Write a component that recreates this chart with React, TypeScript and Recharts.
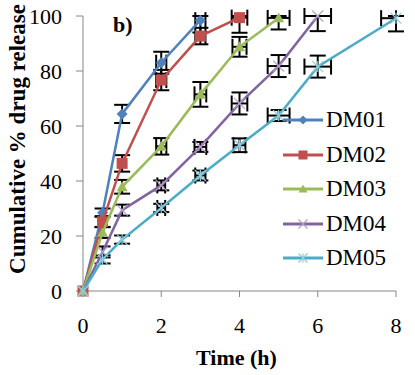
import React from "react";
import {
  ScatterChart,
  Scatter,
  XAxis,
  YAxis,
  ErrorBar,
  Legend,
  Label,
} from "recharts";

const FONT = '"Liberation Serif"';

const hours = [0, 0.5, 1, 2, 3, 4, 5, 6, 8];
const xTicks = [0, 2, 4, 6, 8];
const yTicks = [0, 20, 40, 60, 80, 100];
const names = ["DM01", "DM02", "DM03", "DM04", "DM05"];

// cumulative % drug released at each time point
const dm01 = [0, 28.5, 64.4, 83, 98.5];
const dm02 = [0, 25.2, 46.4, 76.7, 92.7, 99.4];
const dm03 = [0, 21.3, 37.9, 52.6, 71.5, 88.8, 99.3];
const dm04 = [0, 14.2, 29.4, 38.4, 52.4, 68.2, 81.8, 100];
const dm05 = [0, 11.5, 18.7, 30.2, 42, 53, 63.8, 81.6, 99.2];

// error on % released; [below, above] where the bar is cut off at the top
type Err = number | [number, number];
const dm01Sd: Err[] = [0, 1.5, 3.3, 4, [4.5, 1.5]];
const dm02Sd: Err[] = [0, 2, 3, 3.7, 3, [5.5, 0.6]];
const dm03Sd: Err[] = [0, 2, 2.5, 3, 4.5, 3.6, [4.2, 0.7]];
const dm04Sd: Err[] = [0, 2, 2, 1.8, 1.8, 4, 4, [5.5, 0]];
const dm05Sd: Err[] = [0, 1.5, 1.5, 1.5, 1.8, 2.5, 2, 4, [4.8, 0.8]];

// error on time (h)
const dm01Th: Err[] = [0, 0, 0, 0.13, 0.13];
const dm02Th: Err[] = [0, 0, 0, 0.13, 0.13, 0.2];
const dm03Th: Err[] = [0, 0, 0, 0.13, 0.15, 0.18, 0.28];
const dm04Th: Err[] = [0, 0, 0, 0.1, 0.15, 0.2, 0.28, 0.34];
const dm05Th: Err[] = [0, 0, 0, 0.1, 0.13, 0.15, 0.28, 0.34, [0.38, 0]];

const lineColors = ["#4f81bd", "#c0504d", "#9bbb59", "#8064a2", "#4bacc6"];
const markColors = ["#4f81bd", "#c0504d", "#9bbb59", "#b3a2c7", "#93cddd"];
const markKinds = ["diamond", "square", "triangle", "x", "star"];

const build = (vals: number[], sd: Err[], th: Err[]) =>
  vals.map((v, i) => ({ t: hours[i], v, ey: sd[i], ex: th[i] }));

const series = [
  build(dm01, dm01Sd, dm01Th),
  build(dm02, dm02Sd, dm02Th),
  build(dm03, dm03Sd, dm03Th),
  build(dm04, dm04Sd, dm04Th),
  build(dm05, dm05Sd, dm05Th),
];

function Marker({ kind, cx, cy, color, r = 5.5 }: any) {
  if (cx == null || cy == null) return null;
  switch (kind) {
    case "diamond":
      return (
        <path
          d={`M${cx},${cy - r} L${cx + r},${cy} L${cx},${cy + r} L${cx - r},${cy}Z`}
          fill={color}
        />
      );
    case "square":
      return <rect x={cx - r} y={cy - r} width={r * 2} height={r * 2} fill={color} />;
    case "triangle":
      return (
        <path
          d={`M${cx},${cy - r} L${cx + r},${cy + r * 0.8} L${cx - r},${cy + r * 0.8}Z`}
          fill={color}
        />
      );
    case "x":
      return (
        <g stroke={color} strokeWidth={1.2}>
          <line x1={cx - r} y1={cy - r} x2={cx + r} y2={cy + r} />
          <line x1={cx - r} y1={cy + r} x2={cx + r} y2={cy - r} />
        </g>
      );
    default:
      return (
        <g stroke={color} strokeWidth={1.2}>
          <line x1={cx - r} y1={cy - r} x2={cx + r} y2={cy + r} />
          <line x1={cx - r} y1={cy + r} x2={cx + r} y2={cy - r} />
          <line x1={cx} y1={cy - r} x2={cx} y2={cy + r} />
        </g>
      );
  }
}

function LegendBox() {
  return (
    <div style={{ fontFamily: FONT, fontSize: 23, color: "#000" }}>
      {names.map((n, i) => (
        <div key={n} style={{ display: "flex", alignItems: "center", height: 34.5 }}>
          <svg width={43} height={34} style={{ display: "block" }}>
            <line x1={0} y1={17} x2={40} y2={17} stroke={lineColors[i]} strokeWidth={3} />
            <Marker kind={markKinds[i]} cx={20} cy={17} color={markColors[i]} r={4.5} />
          </svg>
          <span style={{ lineHeight: "34px", fontFamily: FONT }}>{n}</span>
        </div>
      ))}
    </div>
  );
}

export default function App() {
  return (
    <div style={{ width: 415, height: 375, background: "#fff", fontFamily: FONT }}>
      <style>{"body{margin:0}"}</style>
      <ScatterChart
        width={415}
        height={375}
        margin={{ top: 16, right: 19, bottom: 0, left: 0 }}
        style={{ fontFamily: FONT }}
      >
        <XAxis
          type="number"
          dataKey="t"
          domain={[0, 8]}
          ticks={xTicks}
          height={84}
          stroke="#868686"
          tickSize={6}
          tickMargin={20}
          tick={{ fill: "#000", fontSize: 22, fontFamily: FONT }}
        >
          <Label
            value="Time (h)"
            position="insideBottom"
            offset={10}
            dx={-3}
            style={{ fontFamily: FONT, fontSize: 22, fontWeight: "bold", fill: "#000" }}
          />
        </XAxis>
        <YAxis
          type="number"
          dataKey="v"
          domain={[0, 100]}
          ticks={yTicks}
          interval={0}
          width={83}
          stroke="#868686"
          tickSize={7}
          tickMargin={14}
          tick={{ fill: "#000", fontSize: 22, fontFamily: FONT }}
        >
          <Label
            content={() => (
              <g>
                <text
                  x={25}
                  y={139}
                  transform="rotate(-90 25 139)"
                  textAnchor="middle"
                  style={{ fontFamily: FONT, fontSize: 23, fontWeight: "bold" }}
                  fill="#000"
                >
                  Cumulative % drug release
                </text>
                <text
                  x={113}
                  y={32}
                  style={{ fontFamily: FONT, fontSize: 22, fontWeight: "bold" }}
                  fill="#000"
                >
                  b)
                </text>
              </g>
            )}
          />
        </YAxis>
        <Legend
          layout="vertical"
          align="center"
          verticalAlign="middle"
          wrapperStyle={{ left: 283, top: 103, width: 130 }}
          content={() => <LegendBox />}
        />
        {series.map((data, i) => (
          <Scatter
            key={names[i]}
            name={names[i]}
            data={data}
            isAnimationActive={false}
            line={{ stroke: lineColors[i], strokeWidth: 2.5 }}
            shape={(p: any) => (
              <Marker kind={markKinds[i]} cx={p.cx} cy={p.cy} color={markColors[i]} />
            )}
          >
            <ErrorBar dataKey="ey" direction="y" width={8} stroke="#000" strokeWidth={2} />
            <ErrorBar dataKey="ex" direction="x" width={8} stroke="#000" strokeWidth={2} />
          </Scatter>
        ))}
      </ScatterChart>
    </div>
  );
}
